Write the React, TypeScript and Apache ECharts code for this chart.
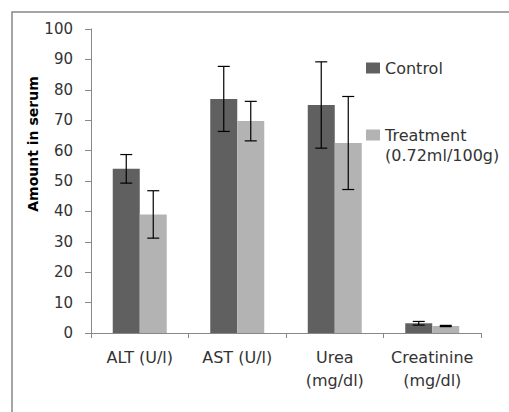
import React, { useEffect, useRef } from "react";
import * as echarts from "echarts";

const categories = ["ALT (U/l)", "AST (U/l)", "Urea\n(mg/dl)", "Creatinine\n(mg/dl)"];
const controlValues = [54, 77, 75, 3.2];
const controlErrors = [4.7, 10.7, 14.2, 0.6];
const treatmentValues = [39, 69.7, 62.5, 2.3];
const treatmentErrors = [7.8, 6.5, 15.3, 0.2];
const seriesNames = ["Control", "Treatment\n(0.72ml/100g)"];
const yTicks = { min: 0, max: 100, interval: 10 };

const DARK = "#606060";
const LIGHT = "#b3b3b3";
const BAR_W = 27;

function errorSeries(values: number[], errors: number[], offset: number) {
  return {
    type: "custom",
    silent: true,
    z: 5,
    data: values.map((v, i) => [i, v - errors[i], v + errors[i]]),
    encode: { x: 0, y: [1, 2] },
    renderItem: (params: any, api: any) => {
      const idx = api.value(0);
      const lo = api.coord([idx, api.value(1)]);
      const hi = api.coord([idx, api.value(2)]);
      const x = lo[0] + offset;
      const cap = 6;
      const style = { stroke: "#000", lineWidth: 1.2 };
      return {
        type: "group",
        children: [
          { type: "line", shape: { x1: x, y1: hi[1], x2: x, y2: lo[1] }, style },
          { type: "line", shape: { x1: x - cap, y1: hi[1], x2: x + cap, y2: hi[1] }, style },
          { type: "line", shape: { x1: x - cap, y1: lo[1], x2: x + cap, y2: lo[1] }, style },
        ],
      };
    },
  };
}

export default function App() {
  const ref = useRef<HTMLDivElement>(null);
  useEffect(() => {
    if (!ref.current) return;
    const chart = echarts.init(ref.current, null, { renderer: "svg" });
    const font = "'DejaVu Sans', sans-serif";
    chart.setOption({
      animation: false,
      backgroundColor: "#fff",
      textStyle: { fontFamily: font },
      grid: { left: 91, right: 28, top: 29, bottom: 79 },
      legend: {
        orient: "vertical",
        left: 366,
        top: 58,
        padding: 0,
        itemWidth: 14,
        itemHeight: 11,
        itemGap: 27,
        icon: "rect",
        data: seriesNames,
        formatter: (name: string) => (name === seriesNames[1] ? "\n" + name : name),
        textStyle: { fontSize: 16, color: "#333", lineHeight: 20, fontFamily: font },
      },
      graphic: [
        {
          type: "rect",
          shape: { x: 12, y: 12, width: 520, height: 420 },
          style: { fill: "none", stroke: "#888", lineWidth: 1.5 },
          silent: true,
        },
        {
          type: "text",
          x: 33,
          y: 144,
          rotation: Math.PI / 2,
          style: {
            text: "Amount in serum",
            font: `bold 14px ${font}`,
            fill: "#000",
            align: "center",
            verticalAlign: "middle",
          },
        },
      ],
      xAxis: {
        type: "category",
        data: categories,
        axisLine: { lineStyle: { color: "#888", width: 1 } },
        axisTick: { show: true, length: 5, lineStyle: { color: "#888" } },
        axisLabel: { interval: 0, fontSize: 16, color: "#333", margin: 13, lineHeight: 23, fontFamily: font },
      },
      yAxis: {
        type: "value",
        min: yTicks.min,
        max: yTicks.max,
        interval: yTicks.interval,
        splitLine: { show: false },
        axisLine: { show: true, lineStyle: { color: "#888", width: 1 } },
        axisTick: { show: true, length: 6, lineStyle: { color: "#888" } },
        axisLabel: { fontSize: 15, color: "#333", margin: 18, fontFamily: font },
      },
      series: [
        {
          name: seriesNames[0],
          type: "bar",
          data: controlValues,
          barWidth: BAR_W,
          barGap: "0%",
          itemStyle: { color: DARK },
        },
        {
          name: seriesNames[1],
          type: "bar",
          data: treatmentValues,
          barWidth: BAR_W,
          barGap: "0%",
          itemStyle: { color: LIGHT },
        },
        errorSeries(controlValues, controlErrors, -BAR_W / 2),
        errorSeries(treatmentValues, treatmentErrors, BAR_W / 2),
      ],
    });
    return () => chart.dispose();
  }, []);
  return (
    <div
      ref={ref}
      style={{ position: "fixed", left: 0, top: 0, width: 509, height: 412 }}
    />
  );
}
